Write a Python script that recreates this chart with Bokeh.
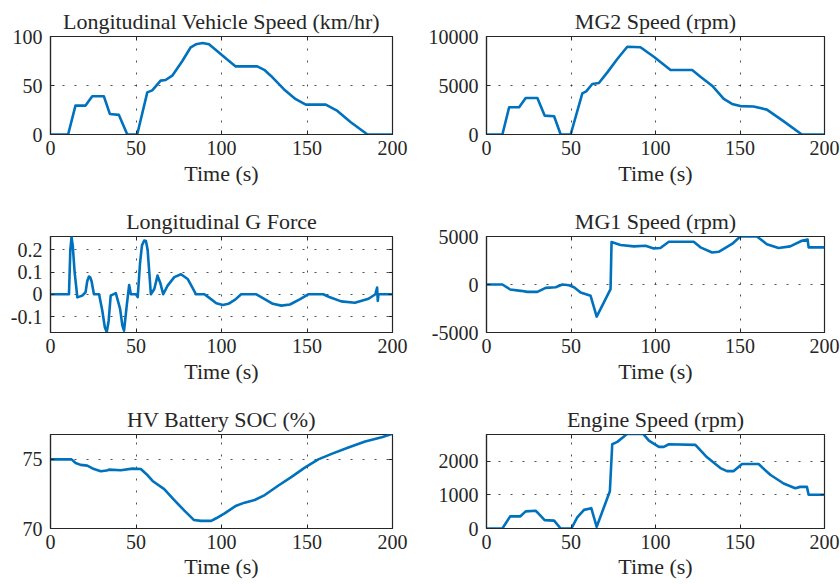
from bokeh.plotting import figure
from bokeh.models import Range1d, FixedTicker, LinearAxis
from bokeh.layouts import column, row
from bokeh.embed import file_html
from bokeh.resources import INLINE

# ---------------- data ----------------
x_ticks = [0, 50, 100, 150, 200]

t_speed = [0, 10.3, 14.6, 20.5, 24.4, 31.2, 34.7, 40, 44.9, 50.7, 56.6, 59.5, 64.4, 67.3,
           71.2, 77.1, 82, 85, 89, 92.7, 97.6, 103, 108.3, 120.9, 125, 128.8, 136.6, 143.4,
           149.3, 161, 167.8, 175.6, 185.4, 200]
speed = [0, 0, 29.5, 29.5, 39, 39, 21, 20, 0, 0, 43, 45, 55, 55.6,
         60, 75, 89, 92, 93.3, 92, 85, 77, 69.5, 69.5, 66, 60, 46, 36,
         30.5, 30.5, 24, 12.5, 0, 0]

t_mg2 = [0, 9.4, 13.4, 19.3, 23.2, 30.1, 34.4, 40, 43.9, 49.8, 56.7, 59, 62.6, 66.5, 71.5,
         77.4, 83.3, 91.1, 99, 108.9, 121.7, 126.6, 133.5, 140.4, 145.3, 150.2, 158, 165.9,
         175.7, 186.6, 200]
mg2 = [0, 0, 2780, 2780, 3730, 3730, 1930, 1860, 0, 0, 4200, 4400, 5150, 5250, 6340,
       7700, 8950, 8900, 7930, 6580, 6580, 5900, 4980, 3630, 3120, 2900, 2850, 2540,
       1360, 0, 0]

t_g = [0, 10.8, 11.6, 12.3, 13.0, 14.1, 15.7, 18.6, 20.5, 21.5, 22.5, 23.3, 24, 25.4, 28.4,
       30.3, 31.8, 32.9, 34.0, 35.2, 38.2, 40.7, 42.0, 43, 44.6, 46, 47, 50, 51, 52.4, 53.5,
       54.8, 55.8, 56.8, 58.7, 60.7, 62.6, 64.2, 65.9, 68.5, 72.4, 76.3, 80.2, 83, 85.1,
       90, 92.5, 97, 100.8, 104, 108, 111.5, 120.4, 124, 130, 135, 140, 146, 150.7, 159.5,
       163, 170, 178, 186, 190, 191, 191.4, 191.8, 200]
g_force = [0, 0, 0.2, 0.257, 0.22, 0.1, -0.014, -0.006, 0.009, 0.06, 0.08, 0.075, 0.06, 0, 0,
           -0.074, -0.15, -0.17, -0.12, -0.006, 0.005, -0.066, -0.14, -0.164, -0.05, 0.042, 0,
           0, -0.013, 0.144, 0.22, 0.242, 0.24, 0.2, 0, 0.024, 0.084, 0.051, 0, 0.039, 0.077,
           0.09, 0.069, 0.03, 0,
           0, -0.014, -0.04, -0.048, -0.043, -0.024, 0, 0, -0.016, -0.043, -0.051, -0.046,
           -0.022, 0, 0,
           -0.012, -0.032, -0.038, -0.02, 0, 0.03, -0.03, 0, 0]

t_mg1 = [0, 9.4, 14, 20.3, 24.2, 30.1, 35, 40.9, 44.9, 48.8, 51.8, 55.7, 61.6, 65.2, 73.4,
         74, 79.3, 87.2, 94.1, 99, 102.9, 107.9, 122.6, 126.6, 133.5, 137.4, 145.3, 150.2,
         160, 165.9, 172.8, 179.7, 186.6, 190, 190.6, 200]
mg1 = [0, 0, -520, -660, -770, -770, -350, -280, 0, -70, -280, -840, -1180, -3340, -490,
       4420, 4110, 3970, 4040, 3760, 3800, 4460, 4460, 3870, 3340, 3410, 4220, 5000,
       5000, 4200, 3800, 3970, 4560, 4680, 3870, 3870]

t_soc = [0, 12.3, 14.7, 17.6, 21.5, 25.4, 29.4, 32.9, 34.2, 41.1, 47.9, 52.8, 56.8, 59.7,
         66.5, 72.4, 78.3, 83.8, 88.1, 94, 96.9, 101.8, 108.6, 113.5, 119.4, 125.3, 133.1,
         141, 148.7, 156.6, 164.4, 174.2, 184, 193.7, 200]
soc = [75, 75, 74.74, 74.6, 74.55, 74.3, 74.14, 74.19, 74.26, 74.21, 74.33, 74.3, 73.85, 73.44,
       72.85, 72.06, 71.29, 70.62, 70.55, 70.55, 70.74, 71.1, 71.65, 71.87, 72.06, 72.42, 73.09,
       73.73, 74.4, 75, 75.4, 75.86, 76.3, 76.6, 76.85]

t_eng = [0, 9.4, 14, 19.9, 23.2, 29.1, 31.1, 34.4, 40, 43.9, 50.2, 53.7, 57.7, 62, 65.2, 73,
         74.4, 77.4, 83.3, 92.7, 96.1, 102, 104.9, 107.9, 123.6, 130.5, 138.4, 142.3, 146.3,
         151.2, 161, 167.9, 175.8, 182.7, 185.6, 189.6, 190.6, 200]
engine = [0, 0, 360, 360, 510, 530, 430, 250, 235, 0, 0, 330, 555, 605, 50, 1110,
          2510, 2580, 2820, 2820, 2620, 2430, 2430, 2510, 2490, 2120, 1800, 1710, 1710,
          1920, 1920, 1600, 1340, 1200, 1240, 1240, 1005, 1005]

# ---------------- styling ----------------
FONT = "Liberation Serif"
BLUE = "#0072BD"
INK = "#262626"
TICK_FS = "20px"
LABEL_FS = "22px"


def make(title, t, y, ylo, yhi, yticks, w, h, bl, br, bt, bb, lab_so=6, ax_so=3,
         overrides=None):
    p = figure(width=w, height=h, x_range=Range1d(0, 200), y_range=Range1d(ylo, yhi),
               output_backend="svg", toolbar_location=None, title=title,
               min_border_left=bl, min_border_right=br, min_border_top=bt,
               min_border_bottom=bb)
    p.line(t, y, line_color=BLUE, line_width=2.6, line_join="round")

    p.title.text_font = FONT
    p.title.text_font_size = LABEL_FS
    p.title.text_font_style = "normal"
    p.title.text_color = INK
    p.title.align = "center"
    p.title.standoff = 5

    p.outline_line_color = INK
    p.outline_line_width = 1.2
    p.background_fill_color = "white"
    p.border_fill_color = "white"

    p.xaxis.ticker = FixedTicker(ticks=x_ticks)
    p.yaxis.ticker = FixedTicker(ticks=yticks)
    if overrides:
        p.yaxis.major_label_overrides = overrides
    p.xaxis.axis_label = "Time (s)"
    p.xaxis.axis_label_text_font = FONT
    p.xaxis.axis_label_text_font_size = LABEL_FS
    p.xaxis.axis_label_text_font_style = "normal"
    p.xaxis.axis_label_text_color = INK
    p.xaxis.axis_label_standoff = ax_so
    p.xaxis.major_label_standoff = lab_so
    p.yaxis.major_label_standoff = 8
    for ax in (p.xaxis, p.yaxis):
        ax.major_label_text_font = FONT
        ax.major_label_text_font_size = TICK_FS
        ax.major_label_text_color = INK
        ax.axis_line_color = INK
        ax.axis_line_width = 1.2
        ax.major_tick_in = 4
        ax.major_tick_out = 0
        ax.major_tick_line_color = INK
        ax.minor_tick_line_color = None

    # tick marks on the top and right edges of the box (labels not drawn)
    top = LinearAxis(ticker=FixedTicker(ticks=x_ticks), major_label_text_font_size="1px",
                     major_label_text_color=None,
                     major_label_standoff=0, major_tick_in=4, major_tick_out=0,
                     minor_tick_line_color=None, axis_line_color=None,
                     major_tick_line_color=INK)
    right = LinearAxis(ticker=FixedTicker(ticks=yticks), major_label_text_font_size="1px",
                       major_label_text_color=None,
                       major_label_standoff=0, major_tick_in=4, major_tick_out=0,
                       minor_tick_line_color=None, axis_line_color=None,
                       major_tick_line_color=INK)
    p.add_layout(top, "above")
    p.add_layout(right, "right")

    p.xgrid.ticker = FixedTicker(ticks=[50, 100, 150])
    p.ygrid.ticker = FixedTicker(ticks=[v for v in yticks if ylo < v < yhi])
    for g in (p.xgrid, p.ygrid):
        g.grid_line_color = INK
        g.grid_line_alpha = 0.8
        g.grid_line_width = 1
        g.grid_line_dash = "2 10"
    return p


LW, RW = 420, 420
p1 = make("Longitudinal Vehicle Speed (km/hr)", t_speed, speed, 0, 100, [0, 50, 100],
          LW, 200, 50, 28, 36, 66)
p2 = make("MG2 Speed (rpm)", t_mg2, mg2, 0, 10000, [0, 5000, 10000],
          RW, 200, 66, 16, 36, 66)
p3 = make("Longitudinal G Force", t_g, g_force, -0.172, 0.26, [-0.1, 0, 0.1, 0.2],
          LW, 198, 50, 28, 36, 66,
          overrides={-0.1: "-0.1", 0: "0", 0.1: "0.1", 0.2: "0.2"})
p4 = make("MG1 Speed (rpm)", t_mg1, mg1, -5000, 5000, [-5000, 0, 5000],
          RW, 198, 66, 16, 36, 66,
          overrides={-5000: "-5000", 0: "0", 5000: "5000"})
p5 = make("HV Battery SOC (%)", t_soc, soc, 70, 76.8, [70, 75],
          LW, 186, 50, 28, 36, 56, lab_so=6, ax_so=2)
p6 = make("Engine Speed (rpm)", t_eng, engine, 0, 2800, [0, 1000, 2000],
          RW, 186, 66, 16, 36, 56, lab_so=6, ax_so=2)

layout = column(row(p1, p2), row(p3, p4), row(p5, p6))

open("out.html", "w").write(file_html(layout, INLINE))
